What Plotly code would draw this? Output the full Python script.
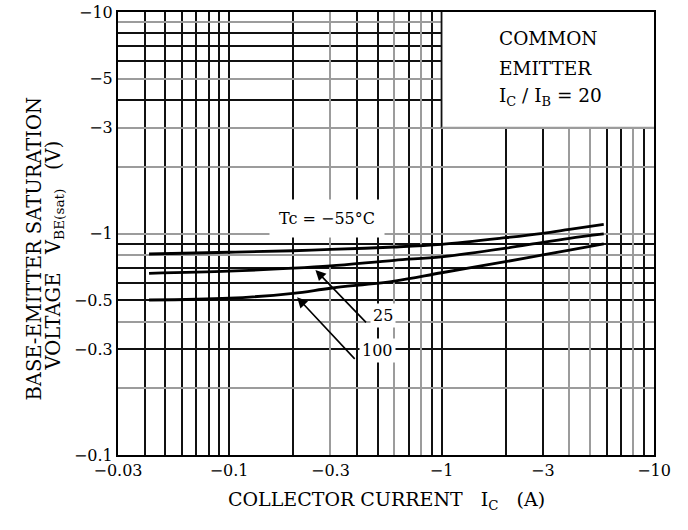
import math
import plotly.graph_objects as go

# ---- data (magnitudes; sign shown in labels) ----
ic_a = [0.042, 0.1, 0.2, 0.3, 0.6, 1, 2, 3, 4, 5.8]
vbe_m55 = [0.808, 0.823, 0.836, 0.847, 0.869, 0.894, 0.957, 1.002, 1.044, 1.100]
vbe_25 = [0.661, 0.676, 0.697, 0.714, 0.757, 0.785, 0.858, 0.913, 0.951, 0.995]
vbe_100 = [0.501, 0.510, 0.537, 0.566, 0.610, 0.665, 0.746, 0.800, 0.842, 0.897]

x_tick_vals = [0.03, 0.1, 0.3, 1, 3, 10]
x_tick_text = ["\u22120.03", "\u22120.1", "\u22120.3", "\u22121", "\u22123", "\u221210"]
y_tick_vals = [0.1, 0.3, 0.5, 1, 3, 5, 10]
y_tick_text = ["\u22120.1", "\u22120.3", "\u22120.5", "\u22121", "\u22123", "\u22125", "\u221210"]

x_dark_grid = [0.04, 0.05, 0.06, 0.07, 0.08, 0.09, 0.1, 0.2, 0.4, 0.5, 0.7, 0.9, 1, 2, 3, 6, 7, 9]
x_gray_grid = [0.3, 0.6, 0.8, 4, 5, 8]
y_dark_grid = [0.3, 0.5, 0.6, 0.7, 0.9, 4, 6, 7, 8]
y_gray_grid = [0.2, 0.4, 0.8, 1, 2, 3, 5, 9]

FONT = "DejaVu Serif"
DARK = "#111111"
GRAY = "#9c9c9c"

fig = go.Figure()
for yy in (vbe_m55, vbe_25, vbe_100):
    fig.add_trace(go.Scatter(x=ic_a, y=yy, mode="lines", line=dict(color="black", width=2.8, shape="spline"),
                             showlegend=False, hoverinfo="skip"))
# empty trace to create the overlay subplot for gray grid
fig.add_trace(go.Scatter(x=[], y=[], xaxis="x2", yaxis="y2", showlegend=False))

xr = [math.log10(0.03), 1]
yr = [-1, 1]

fig.update_layout(
    width=688, height=530,
    margin=dict(l=118, r=34, t=12, b=75, autoexpand=False),
    paper_bgcolor="white", plot_bgcolor="white",
    font=dict(family=FONT, color="black", size=16),
    xaxis=dict(type="log", range=xr, tickmode="array", tickvals=x_tick_vals, ticktext=x_tick_text,
               showgrid=False, zeroline=False, showline=True, mirror=True, linecolor="black", linewidth=2,
               ticks="", tickfont=dict(size=16), automargin=False,
               minor=dict(tickmode="array", tickvals=x_dark_grid, showgrid=True, gridcolor=DARK, gridwidth=1.6, ticks="")),
    yaxis=dict(type="log", range=yr, tickmode="array", tickvals=y_tick_vals, ticktext=y_tick_text,
               showgrid=False, zeroline=False, showline=True, mirror=True, linecolor="black", linewidth=2,
               ticks="", tickfont=dict(size=16), automargin=False,
               minor=dict(tickmode="array", tickvals=y_dark_grid, showgrid=True, gridcolor=DARK, gridwidth=1.6, ticks="")),
    xaxis2=dict(type="log", range=xr, overlaying="x", anchor="y2", tickmode="array", tickvals=x_gray_grid,
                showticklabels=False, showgrid=True, gridcolor=GRAY, gridwidth=2, zeroline=False, ticks="",
                automargin=False),
    yaxis2=dict(type="log", range=yr, overlaying="y", anchor="x2", tickmode="array", tickvals=y_gray_grid,
                showticklabels=False, showgrid=True, gridcolor=GRAY, gridwidth=2, zeroline=False, ticks="",
                automargin=False),
)

# white box for the condition text (upper right)
fig.add_shape(type="rect", xref="x", yref="y", x0=1, x1=10, y0=3, y1=10,
              fillcolor="white", line=dict(width=0), layer="above")
fig.add_shape(type="line", xref="x", yref="y", x0=1, x1=1, y0=3, y1=10,
              line=dict(color=DARK, width=1.8), layer="above")
fig.add_shape(type="line", xref="x", yref="y", x0=1, x1=10, y0=3, y1=3,
              line=dict(color=GRAY, width=2), layer="above")

def pap(px, py):
    return (px - 118) / 536, 1 - (py - 12) / 443

for txt, py in (("COMMON", 38), ("EMITTER", 68), ("I<sub>C</sub> / I<sub>B</sub> = 20", 97)):
    px_, py_ = pap(497, py)
    fig.add_annotation(text=txt, xref="paper", yref="paper", x=px_, y=py_, xanchor="left", yanchor="middle",
                       showarrow=False, font=dict(size=18.5))

# curve labels
fig.add_annotation(text="Tc = \u221255\u00b0C", xref="x", yref="y", x=math.log10(0.29), y=math.log10(1.17),
                   showarrow=False, bgcolor="white", borderpad=9, font=dict(size=16))
for txt, px, py in (("25", 383, 328), ("100", 377, 363)):
    a, b = pap(px, py)
    fig.add_annotation(text=txt, xref="paper", yref="paper", x=a, y=b, showarrow=False,
                       bgcolor="white", borderpad=2, font=dict(size=16))

# arrows
fig.add_annotation(text="", xref="x", yref="y", x=math.log10(0.255), y=math.log10(0.685),
                   ax=52, ay=54, showarrow=True, arrowhead=2, arrowsize=1.3, arrowwidth=1.6, arrowcolor="black", standoff=0)
fig.add_annotation(text="", xref="x", yref="y", x=math.log10(0.209), y=math.log10(0.515),
                   ax=59, ay=63, showarrow=True, arrowhead=2, arrowsize=1.3, arrowwidth=1.6, arrowcolor="black", standoff=0)

# axis titles
a, b = pap(386, 515)
fig.add_annotation(text="COLLECTOR CURRENT\u00a0\u00a0\u00a0I<sub>C</sub>\u00a0\u00a0\u00a0(A)", xref="paper", yref="paper",
                   x=a, y=b, showarrow=False, font=dict(size=19))
a, b = pap(20, 249)
fig.add_annotation(text="BASE-EMITTER SATURATION", xref="paper", yref="paper", x=a, y=b, textangle=-90,
                   showarrow=False, font=dict(size=19.5))
a, b = pap(39, 256)
fig.add_annotation(text="VOLTAGE\u00a0\u00a0\u00a0V<sub>BE(sat)</sub>\u00a0\u00a0\u00a0(V)", xref="paper", yref="paper",
                   x=a, y=b, textangle=-90, showarrow=False, font=dict(size=19.5))

fig.write_html("out.html", config={"displayModeBar": False},
               post_script="document.body.style.margin='0px';document.body.style.overflow='hidden';")
